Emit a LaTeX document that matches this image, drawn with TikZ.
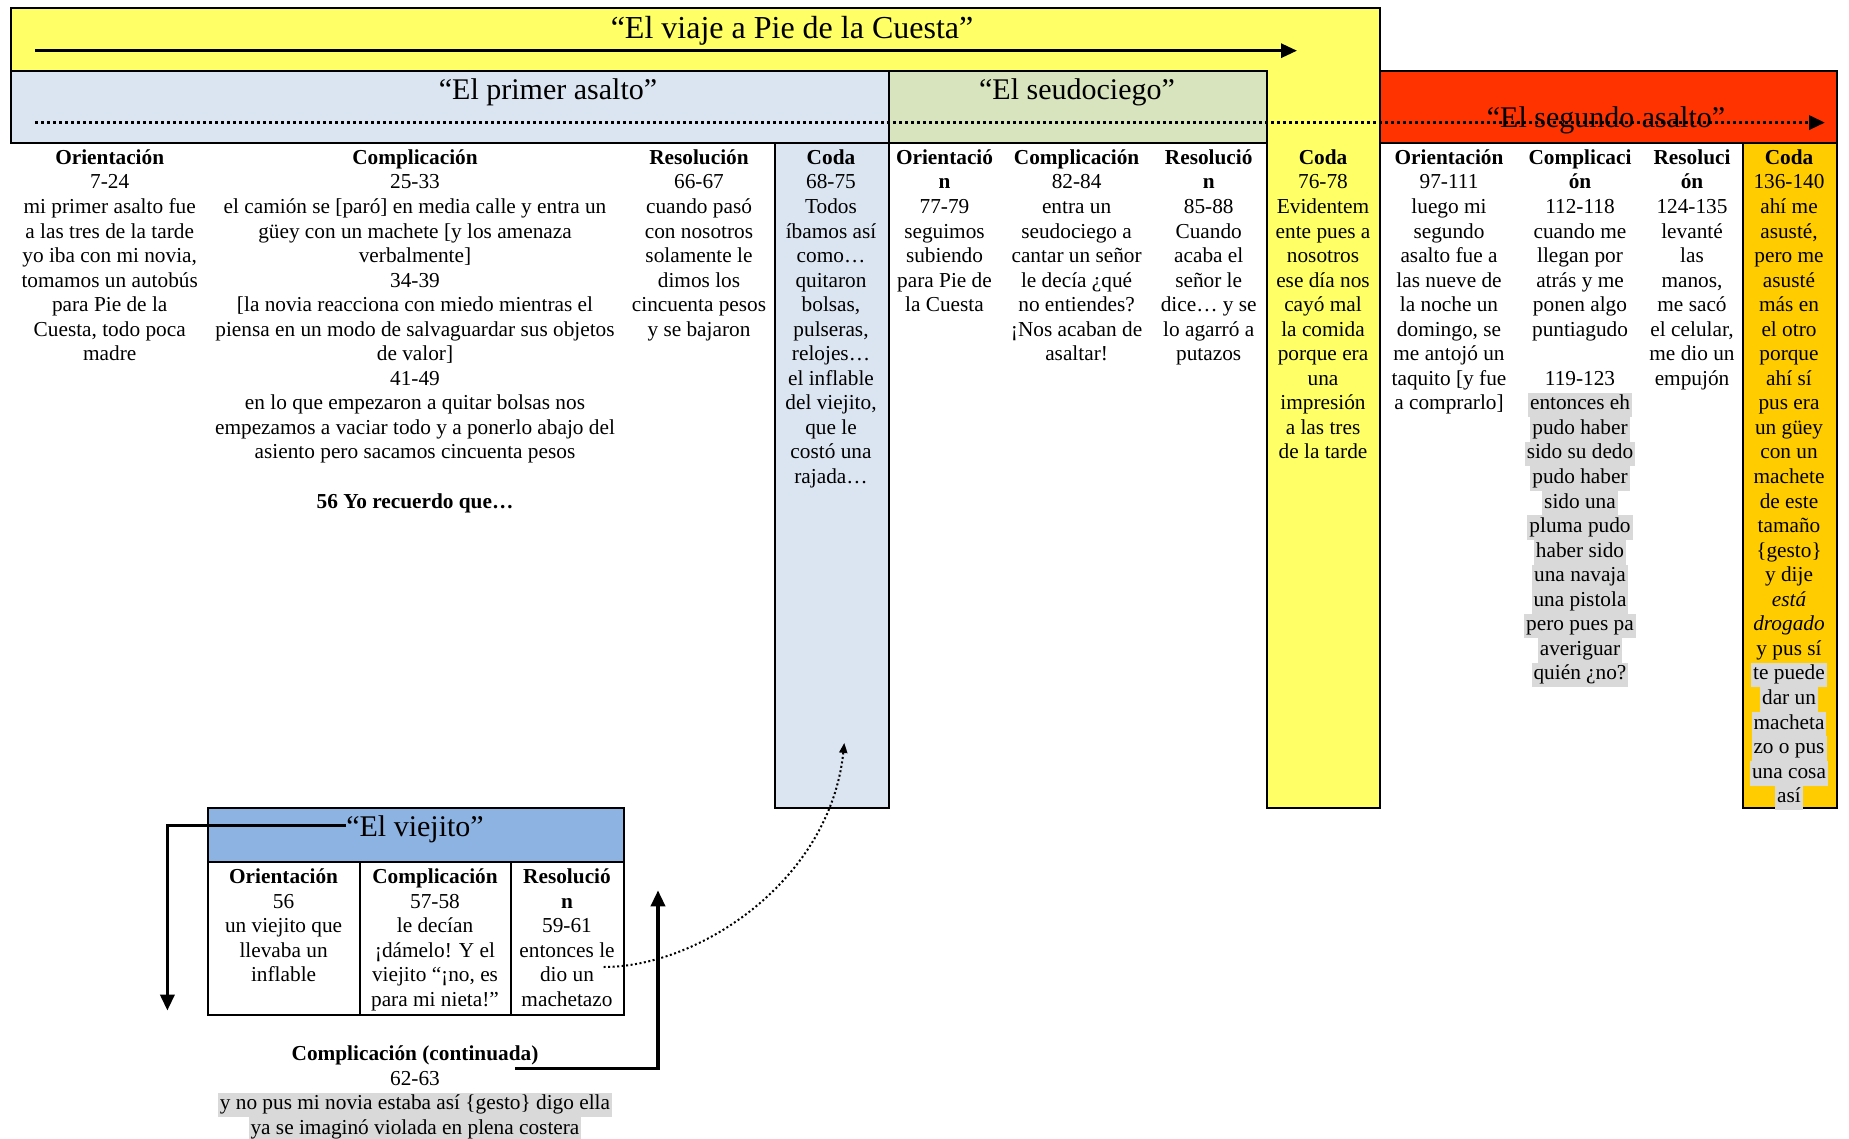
\documentclass[tikz,border=0pt]{standalone}
\usepackage{fontspec}
\setmainfont{Liberation Serif}
\usepackage{tikz}
\usetikzlibrary{arrows.meta}

\definecolor{viajeyellow}{HTML}{FFFF66}
\definecolor{primerblue}{HTML}{DBE5F1}
\definecolor{ciegogreen}{HTML}{D7E4BD}
\definecolor{segundored}{HTML}{FF3300}
\definecolor{codaorange}{HTML}{FFCC00}
\definecolor{viejitoblue}{HTML}{8DB3E2}
\definecolor{hlgray}{HTML}{D9D9D9}

\newcommand{\grayhl}[1]{{\setlength{\fboxsep}{0pt}\colorbox{hlgray}{\kern2pt\strut #1\kern2pt}}}

\begin{document}
\begin{tikzpicture}[x=1pt,y=-1pt,
  box/.style={draw=black,line width=2pt},
  coltext/.style={anchor=north,align=center,inner sep=0pt,font=\fontsize{21.3}{24.55}\selectfont},
  titletext/.style={inner sep=0pt,font=\fontsize{30}{36}\selectfont},
  bigarrow/.style={line width=3.5pt,-{Triangle[length=16pt,width=14pt]}},
  dotarrow/.style={line width=3.5pt,dash pattern=on 3pt off 3pt,-{Triangle[length=16pt,width=14pt]}},
  curvearrow/.style={line width=2pt,dash pattern=on 2pt off 2.5pt,-{Triangle[length=10pt,width=8pt]}}]
\useasboundingbox (0,0) rectangle (1849,1139);

\draw[box,fill=viajeyellow] (10.6,8.3) -- (1379.7,8.3) -- (1379.7,807.7) -- (1266.5,807.7)
  -- (1266.5,70.8) -- (10.6,70.8) -- cycle;
\draw[box,fill=primerblue] (10.6,70.8) rectangle (889,142.7);
\draw[box,fill=ciegogreen] (889,70.8) rectangle (1266.5,142.7);
\draw[box,fill=segundored] (1379.7,70.8) rectangle (1837,142.7);
\draw[box,fill=primerblue] (774.7,142.7) rectangle (889,807.7);
\draw[box,fill=codaorange] (1742.8,142.7) rectangle (1837,807.7);

\node[titletext,font=\fontsize{32}{38}\selectfont] (viaje) at (792,30.5) {“El viaje a Pie de la Cuesta”};
\node[titletext] (primer) at (548,92) {“El primer asalto”};
\node[titletext] (seudociego) at (1077,92) {“El seudociego”};
\node[titletext] (segundo) at (1606,120) {“El segundo asalto”};

\coordinate (viajeS) at (35,50.7);
\coordinate (viajeE) at (1297,50.7);
\draw[bigarrow,line width=3pt] (viajeS) -- (viajeE);
\coordinate (asaltoS) at (35,122.6);
\coordinate (asaltoE) at (1825,122.6);
\draw[dotarrow] (asaltoS) -- (asaltoE);

\node[coltext] (pOrient) at (109.7,147) {\strut\textbf{Orientación}\\7-24\\mi primer asalto fue\\a las tres de la tarde\\yo iba con mi novia,\\tomamos un autobús\\para Pie de la\\Cuesta, todo poca\\madre};
\node[coltext] (pCompl) at (415,147) {\strut\textbf{Complicación}\\25-33\\el camión se {[}paró{]} en media calle y entra un\\güey con un machete {[}y los amenaza\\verbalmente{]}\\34-39\\{[}la novia reacciona con miedo mientras el\\piensa en un modo de salvaguardar sus objetos\\de valor{]}\\41-49\\en lo que empezaron a quitar bolsas nos\\empezamos a vaciar todo y a ponerlo abajo del\\asiento pero sacamos cincuenta pesos\\~\\\textbf{56 Yo recuerdo que…}};
\node[coltext] (pResol) at (699,147) {\strut\textbf{Resolución}\\66-67\\cuando pasó\\con nosotros\\solamente le\\dimos los\\cincuenta pesos\\y se bajaron};
\node[coltext] (pCoda) at (831,147) {\strut\textbf{Coda}\\68-75\\Todos\\íbamos así\\como…\\quitaron\\bolsas,\\pulseras,\\relojes…\\el inflable\\del viejito,\\que le\\costó una\\rajada…};

\node[coltext] (cOrient) at (944.5,147) {\strut\textbf{Orientació}\\\textbf{n}\\77-79\\seguimos\\subiendo\\para Pie de\\la Cuesta};
\node[coltext] (cCompl) at (1076.6,147) {\strut\textbf{Complicación}\\82-84\\entra un\\seudociego a\\cantar un señor\\le decía ¿qué\\no entiendes?\\¡Nos acaban de\\asaltar!};
\node[coltext] (cResol) at (1208.7,147) {\strut\textbf{Resolució}\\\textbf{n}\\85-88\\Cuando\\acaba el\\señor le\\dice… y se\\lo agarró a\\putazos};
\node[coltext] (vCoda) at (1323,147) {\strut\textbf{Coda}\\76-78\\Evidentem\\ente pues a\\nosotros\\ese día nos\\cayó mal\\la comida\\porque era\\una\\impresión\\a las tres\\de la tarde};

\node[coltext] (sOrient) at (1449,147) {\strut\textbf{Orientación}\\97-111\\luego mi\\segundo\\asalto fue a\\las nueve de\\la noche un\\domingo, se\\me antojó un\\taquito {[}y fue\\a comprarlo{]}};
\node[coltext] (sCompl) at (1580,147) {\strut\textbf{Complicaci}\\\textbf{ón}\\112-118\\cuando me\\llegan por\\atrás y me\\ponen algo\\puntiagudo\\~\\119-123\\\grayhl{entonces eh}\\\grayhl{pudo haber}\\\grayhl{sido su dedo}\\\grayhl{pudo haber}\\\grayhl{sido una}\\\grayhl{pluma pudo}\\\grayhl{haber sido}\\\grayhl{una navaja}\\\grayhl{una pistola}\\\grayhl{pero pues pa}\\\grayhl{averiguar}\\\grayhl{quién ¿no?}};
\node[coltext] (sResol) at (1692,147) {\strut\textbf{Resoluci}\\\textbf{ón}\\124-135\\levanté\\las\\manos,\\me sacó\\el celular,\\me dio un\\empujón};
\node[coltext] (sCoda) at (1789,147) {\strut\textbf{Coda}\\136-140\\ahí me\\asusté,\\pero me\\asusté\\más en\\el otro\\porque\\ahí sí\\pus era\\un güey\\con un\\machete\\de este\\tamaño\\\{gesto\}\\y dije\\\textit{está}\\\textit{drogado}\\y pus sí\\\grayhl{te puede}\\\grayhl{dar un}\\\grayhl{macheta}\\\grayhl{zo o pus}\\\grayhl{una cosa}\\\grayhl{así}};

\draw[box,fill=viejitoblue] (207.5,807.7) rectangle (623.8,862);
\draw[box] (207.5,862) rectangle (623.8,1015.3);
\foreach \x in {359.7,510.6} {
\draw[box] (\x,862) -- (\x,1015.3);
}
\node[titletext] (viejito) at (415,829) {“El viejito”};
\node[coltext] (vOrient) at (283.6,866.4) {\strut\textbf{Orientación}\\56\\un viejito que\\llevaba un\\inflable};
\node[coltext] (vCompl) at (435,866.4) {\strut\textbf{Complicación}\\57-58\\le decían\\¡dámelo! Y el\\viejito “¡no, es\\para mi nieta!”};
\node[coltext] (vResol) at (567,866.4) {\strut\textbf{Resolució}\\\textbf{n}\\59-61\\entonces le\\dio un\\machetazo};

\node[coltext] (contCompl) at (415,1043.4) {\strut\textbf{Complicación (continuada)}\\62-63\\\grayhl{y no pus mi novia estaba así \{gesto\} digo ella}\\\grayhl{ya se imaginó violada en plena costera}};

\coordinate (viejitoDown) at (167.4,1010.6);
\draw[bigarrow] (viejito.west) ++(0,-3.5) -| (viejitoDown);
\coordinate (contS) at (515.3,1068.3);
\coordinate (contE) at (658,890.3);
\draw[bigarrow] (contS) -| (contE);
\coordinate (machetazo) at (603.7,967);
\coordinate (rajada) at (844.3,742.9);
\draw[curvearrow] (machetazo) .. controls (700,967) and (830,880) .. (rajada);

\end{tikzpicture}
\end{document}
